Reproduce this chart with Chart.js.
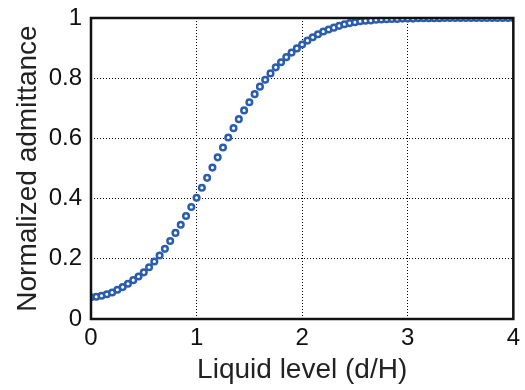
<!DOCTYPE html>
<html>
<head>
<meta charset="utf-8">
<script src="https://cdn.jsdelivr.net/npm/chart.js@4/dist/chart.umd.min.js"></script>
<style>
  html, body { margin: 0; padding: 0; background: #fff; }
  #wrap { width: 525px; height: 390px; }
</style>
</head>
<body>
<div id="wrap"><canvas id="c" width="525" height="390"></canvas></div>
<script>
// ── Data ──────────────────────────────────────────────────────
const levels = [
  0.00, 0.05, 0.10, 0.15, 0.20, 0.25, 0.30, 0.35, 0.40, 0.45,
  0.50, 0.55, 0.60, 0.65, 0.70, 0.75, 0.80, 0.85, 0.90, 0.95,
  1.00, 1.05, 1.10, 1.15, 1.20, 1.25, 1.30, 1.35, 1.40, 1.45,
  1.50, 1.55, 1.60, 1.65, 1.70, 1.75, 1.80, 1.85, 1.90, 1.95,
  2.00, 2.05, 2.10, 2.15, 2.20, 2.25, 2.30, 2.35, 2.40, 2.45,
  2.50, 2.55, 2.60, 2.65, 2.70, 2.75, 2.80, 2.85, 2.90, 2.95,
  3.00, 3.05, 3.10, 3.15, 3.20, 3.25, 3.30, 3.35, 3.40, 3.45,
  3.50, 3.55, 3.60, 3.65, 3.70, 3.75, 3.80, 3.85, 3.90, 3.95,
  4.00
];
const admittance = [
  0.072, 0.074, 0.077, 0.082, 0.088, 0.097, 0.106, 0.117, 0.129, 0.141,
  0.155, 0.172, 0.191, 0.211, 0.233, 0.259, 0.286, 0.313, 0.342, 0.372,
  0.403, 0.436, 0.469, 0.503, 0.537, 0.570, 0.603, 0.634, 0.664, 0.693,
  0.720, 0.747, 0.772, 0.795, 0.816, 0.836, 0.853, 0.870, 0.885, 0.899,
  0.912, 0.925, 0.936, 0.946, 0.955, 0.962, 0.968, 0.974, 0.979, 0.983,
  0.986, 0.989, 0.991, 0.992, 0.994, 0.995, 0.996, 0.997, 0.997, 0.998,
  0.998, 0.998, 0.999, 0.999, 0.999, 0.999, 0.999, 1.000, 1.000, 1.000,
  1.000, 1.000, 1.000, 1.000, 1.000, 1.000, 1.000, 1.000, 1.000, 1.000,
  1.000
];
const xTicks = [0, 1, 2, 3, 4];
const yTicks = [0, 0.2, 0.4, 0.6, 0.8, 1];

const FONT = '"Liberation Sans", Arial, sans-serif';

// box around the plot area, like a MATLAB axes frame
const frame = {
  id: 'frame',
  afterDraw(chart) {
    const a = chart.chartArea, g = chart.ctx;
    g.save();
    g.strokeStyle = '#111';
    g.lineWidth = 2.5;
    g.strokeRect(a.left, a.top, a.right - a.left, a.bottom - a.top);
    g.restore();
  }
};

new Chart(document.getElementById('c'), {
  type: 'scatter',
  data: {
    datasets: [{
      data: levels.map((x, i) => ({ x, y: admittance[i] })),
      pointStyle: 'circle',
      pointRadius: 2.8,
      pointBorderWidth: 2.5,
      pointBorderColor: '#2b5dae',
      pointBackgroundColor: '#ffffff',
      showLine: false,
    }]
  },
  options: {
    responsive: false,
    animation: false,
    layout: { padding: { left: 0, right: 10, top: 18, bottom: 0 } },
    plugins: { legend: { display: false }, tooltip: { enabled: false } },
    scales: {
      x: {
        type: 'linear', min: 0, max: 4,
        afterBuildTicks: s => { s.ticks = xTicks.map(v => ({ value: v })); },
        afterFit: s => { s.height = 71; },
        grid: { color: '#000', lineWidth: 1, drawTicks: false },
        border: { display: false, dash: [1, 2] },
        ticks: { color: '#111', font: { family: FONT, size: 24 }, padding: 5 },
        title: {
          display: true, text: 'Liquid level (d/H)', color: '#222',
          font: { family: FONT, size: 28 }, padding: { top: 0, bottom: 3 }
        }
      },
      y: {
        type: 'linear', min: 0, max: 1,
        afterBuildTicks: s => { s.ticks = yTicks.map(v => ({ value: v })); },
        afterFit: s => { s.width = 91; s.paddingTop = 0; s.paddingBottom = 0; },
        grid: { color: '#000', lineWidth: 1, drawTicks: false },
        border: { display: false, dash: [1, 2] },
        ticks: { color: '#111', font: { family: FONT, size: 24 }, padding: 9,
                 callback: v => String(v) },
        title: {
          display: true, text: 'Normalized admittance', color: '#222',
          font: { family: FONT, size: 28 }, padding: { top: 11, bottom: 0 }
        }
      }
    }
  },
  plugins: [frame]
});
</script>
</body>
</html>
